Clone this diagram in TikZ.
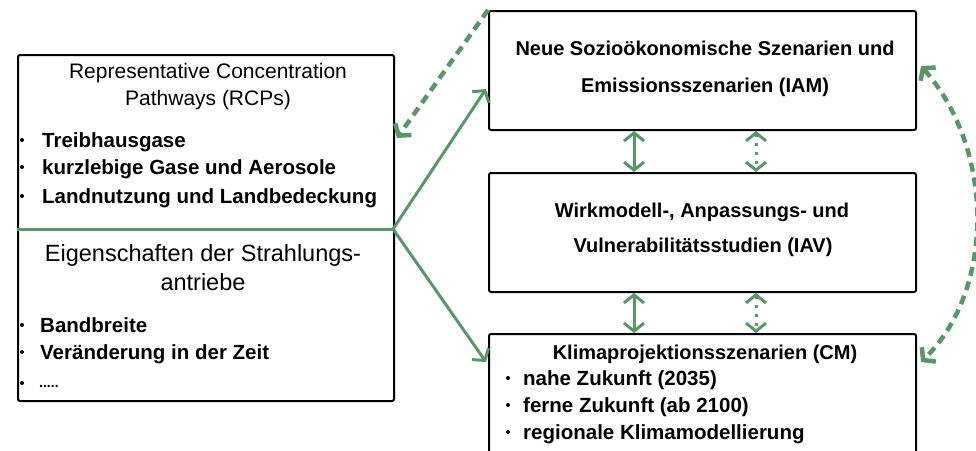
\documentclass[tikz,border=0pt]{standalone}
\usepackage{fontspec}
\setmainfont{Liberation Sans}
\usetikzlibrary{arrows.meta}
\definecolor{grn}{RGB}{86,152,104}
\begin{document}
\begin{tikzpicture}[x=1pt,y=-1pt,
  box/.style={draw=black,line width=2pt,rounded corners=2pt,inner sep=0pt,anchor=north west},
  txt/.style={inner sep=0pt,anchor=base},
  ttl/.style={txt,font=\fontsize{21}{25}\selectfont},
  big/.style={txt,font=\fontsize{23.5}{28}\selectfont},
  bul/.style={txt,anchor=base west,font=\bfseries\fontsize{20.5}{24}\selectfont},
  rtt/.style={txt,font=\bfseries\fontsize{20}{24}\selectfont},
  dot/.style={circle,fill=black,inner sep=0pt,minimum size=4pt},
  gline/.style={draw=grn,line width=3pt},
  garrow/.style={gline,-{Straight Barb[length=8pt,width=20pt]}},
  gdash/.style={draw=grn,line width=4.5pt,dash pattern=on 9pt off 6pt},
]
\useasboundingbox (0,0) rectangle (976,450);
\clip (0,0) rectangle (976,450);

% boxes
\node[box,minimum width=376pt,minimum height=346pt] (rcp) at (17,54) {};
\node[box,minimum width=427pt,minimum height=119pt] (iam) at (488,10) {};
\node[box,minimum width=427pt,minimum height=119pt] (iav) at (488,172) {};
\node[box,minimum width=427pt,minimum height=140pt] (cm) at (488,333) {};

% left box texts (baselines)
\node[ttl] (t1) at (208,78) {Representative Concentration};
\node[ttl] (t2) at (208,105) {Pathways (RCPs)};
\node[dot] (b1) at (22,140) {};
\node[bul] (l1) at (42,147) {Treibhausgase};
\node[dot] (b2) at (22,167) {};
\node[bul] (l2) at (42,174) {kurzlebige Gase und Aerosole};
\node[dot] (b3) at (22,196) {};
\node[bul] (l3) at (42,203) {Landnutzung und Landbedeckung};
\node[big] (e1) at (203,261.5) {Eigenschaften der Strahlungs-};
\node[big] (e2) at (203,290.5) {antriebe};
\node[dot] (b4) at (22,325) {};
\node[bul] (l4) at (40,332) {Bandbreite};
\node[dot] (b5) at (22,352) {};
\node[bul] (l5) at (40,359) {Veränderung in der Zeit};
\node[dot] (b6) at (22,383) {};
\node[txt,anchor=base west,font=\bfseries\fontsize{14}{16}\selectfont] (l6) at (39,387) {.....};

% right box texts (baselines)
\node[rtt] (r1) at (705,55.5) {Neue Sozioökonomische Szenarien und};
\node[rtt] (r2) at (705,92.5) {Emissionsszenarien (IAM)};
\node[rtt] (r3) at (702,217.5) {Wirkmodell-, Anpassungs- und};
\node[rtt] (r4) at (703,252.5) {Vulnerabilitätsstudien (IAV)};
\node[rtt] (r5) at (705,359.5) {Klimaprojektionsszenarien (CM)};
\node[dot] (c1) at (508,378) {};
\node[bul] (k1) at (523,385) {nahe Zukunft (2035)};
\node[dot] (c2) at (508,405) {};
\node[bul] (k2) at (523,412) {ferne Zukunft (ab 2100)};
\node[dot] (c3) at (508,432) {};
\node[bul] (k3) at (523,439) {regionale Klimamodellierung};

% connectors
\coordinate (split) at (393,229);
\coordinate (iamin) at (486,89);
\coordinate (cmin) at (486,362);
\coordinate (rcpin) at (397,138);
\coordinate (iamR) at (921,66);
\coordinate (cmR) at (921,362);

\draw[gline] (rcp.west |- split) -- (split);
\draw[garrow] (split) -- (iamin);
\draw[garrow] (split) -- (cmin);

\draw[gline,{Straight Barb[length=8pt,width=20pt]}-{Straight Barb[length=8pt,width=20pt]}]
  ([xshift=-68.5pt]iam.south) -- ([xshift=-68.5pt]iav.north);
\draw[gline,dash pattern=on 3pt off 6pt,{Straight Barb[length=8pt,width=20pt]}-{Straight Barb[length=8pt,width=20pt]}]
  ([xshift=53.5pt]iam.south) -- ([xshift=53.5pt]iav.north);
\draw[gline,{Straight Barb[length=8pt,width=20pt]}-{Straight Barb[length=8pt,width=20pt]}]
  ([xshift=-68.5pt]iav.south) -- ([xshift=-68.5pt]cm.north);
\draw[gline,dash pattern=on 3pt off 6pt,{Straight Barb[length=8pt,width=20pt]}-{Straight Barb[length=8pt,width=20pt]}]
  ([xshift=53.5pt]iav.south) -- ([xshift=53.5pt]cm.north);

\draw[gdash,-{Straight Barb[length=8pt,width=20pt]}] (iam.north west) -- (rcpin);
\draw[gdash,{Straight Barb[length=8pt,width=20pt]}-{Straight Barb[length=8pt,width=20pt]}]
  (iamR) .. controls (995,150) and (995,290) .. (cmR);
\end{tikzpicture}
\end{document}
